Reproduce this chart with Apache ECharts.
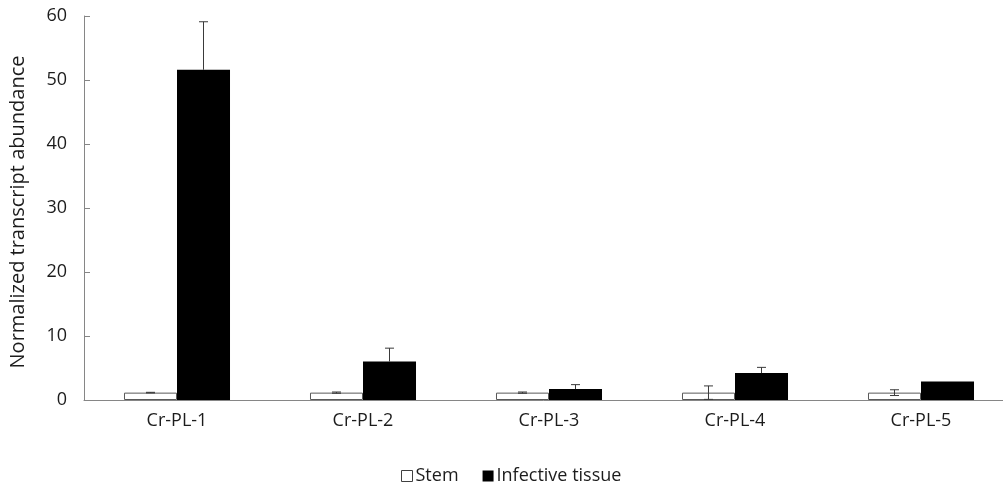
<!DOCTYPE html>
<html>
<head>
<meta charset="utf-8">
<script src="https://cdn.jsdelivr.net/npm/echarts@6/dist/echarts.min.js"></script>
<style>
html,body{margin:0;padding:0;background:#fff;}
#chart{width:1003px;height:487px;}
</style>
</head>
<body>
<div id="chart"></div>
<script>
const categories = ['Cr-PL-1', 'Cr-PL-2', 'Cr-PL-3', 'Cr-PL-4', 'Cr-PL-5'];
const stemValues = [1.15, 1.15, 1.15, 1.15, 1.15];
const stemErrors = [0.05, 0.1, 0.1, 1.05, 0.45];
const infectiveValues = [51.6, 6.0, 1.7, 4.2, 2.9];
const infectiveErrors = [7.5, 2.1, 0.7, 0.9, 0];
const yTicks = [0, 10, 20, 30, 40, 50, 60];

const FONT = 'Open Sans';
const BAR_RATIO = 0.285;
const TEXT = '#1c1c1c';
const AXIS = '#868686';

function errorSeries(name, values, errors, side, bothSides) {
  return {
    type: 'custom',
    name: name + ' error',
    z: 10,
    silent: true,
    data: values.map((v, i) => [i, v, errors[i]]),
    renderItem: function (params, api) {
      const idx = api.value(0);
      const v = api.value(1);
      const e = api.value(2);
      if (!e) return { type: 'group', children: [] };
      const band = api.size([1, 0])[0];
      const bw = band * BAR_RATIO;
      const base = api.coord([idx, v]);
      const x = base[0] + side * bw / 2;
      const hi = api.coord([idx, v + e])[1];
      const lo = bothSides ? api.coord([idx, Math.max(v - e, 0)])[1] : base[1];
      const cap = 4.5;
      const style = { stroke: '#3a3a3a', lineWidth: 1 };
      const children = [
        { type: 'line', shape: { x1: x, y1: hi, x2: x, y2: lo }, style: style },
        { type: 'line', shape: { x1: x - cap, y1: hi, x2: x + cap, y2: hi }, style: style }
      ];
      if (bothSides) {
        children.push({ type: 'line', shape: { x1: x - cap, y1: lo, x2: x + cap, y2: lo }, style: style });
      }
      return { type: 'group', children: children };
    }
  };
}

const chart = echarts.init(document.getElementById('chart'), null, { renderer: 'canvas' });
chart.setOption({
  animation: false,
  backgroundColor: '#ffffff',
  grid: { left: 84, top: 16, right: -11, bottom: 87, containLabel: false, outerBoundsMode: 'none' },
  legend: {
    left: 396,
    top: 462,
    itemWidth: 11,
    itemHeight: 11,
    itemGap: 24,
    icon: 'rect',
    textStyle: { fontFamily: FONT, fontSize: 18, color: TEXT, padding: [0, 0, 0, -2] },
    data: [
      { name: 'Stem', itemStyle: { color: '#ffffff', borderColor: '#404040', borderWidth: 1 } },
      { name: 'Infective tissue', itemStyle: { color: '#000000', borderColor: '#000000', borderWidth: 0 } }
    ]
  },
  xAxis: {
    type: 'category',
    data: categories,
    axisLine: { show: true, lineStyle: { color: AXIS, width: 1 } },
    axisTick: { show: false },
    axisLabel: { fontFamily: FONT, fontSize: 18, color: TEXT, margin: 12 },
    splitLine: { show: false }
  },
  yAxis: {
    type: 'value',
    min: 0,
    max: 60,
    interval: 10,
    name: 'Normalized transcript abundance',
    nameLocation: 'middle',
    nameGap: 56,
    nameTextStyle: { fontFamily: FONT, fontSize: 20, color: TEXT, padding: [0, 0, 0, -8] },
    axisLine: { show: true, lineStyle: { color: AXIS, width: 1 } },
    axisTick: { show: true, inside: true, length: 6, lineStyle: { color: AXIS } },
    axisLabel: {
      fontFamily: FONT, fontSize: 18, color: TEXT, margin: 17,
      formatter: function (v) { return yTicks.indexOf(v) >= 0 ? String(v) : ''; }
    },
    splitLine: { show: false }
  },
  series: [
    {
      name: 'Stem',
      type: 'bar',
      data: stemValues,
      barWidth: (BAR_RATIO * 100) + '%',
      barGap: '0%',
      itemStyle: { color: '#ffffff', borderColor: '#595959', borderWidth: 1 }
    },
    {
      name: 'Infective tissue',
      type: 'bar',
      data: infectiveValues,
      barWidth: (BAR_RATIO * 100) + '%',
      barGap: '0%',
      itemStyle: { color: '#000000', borderColor: '#000000', borderWidth: 0 }
    },
    errorSeries('Stem', stemValues, stemErrors, -1, true),
    errorSeries('Infective tissue', infectiveValues, infectiveErrors, 1, false)
  ]
});
</script>
</body>
</html>
